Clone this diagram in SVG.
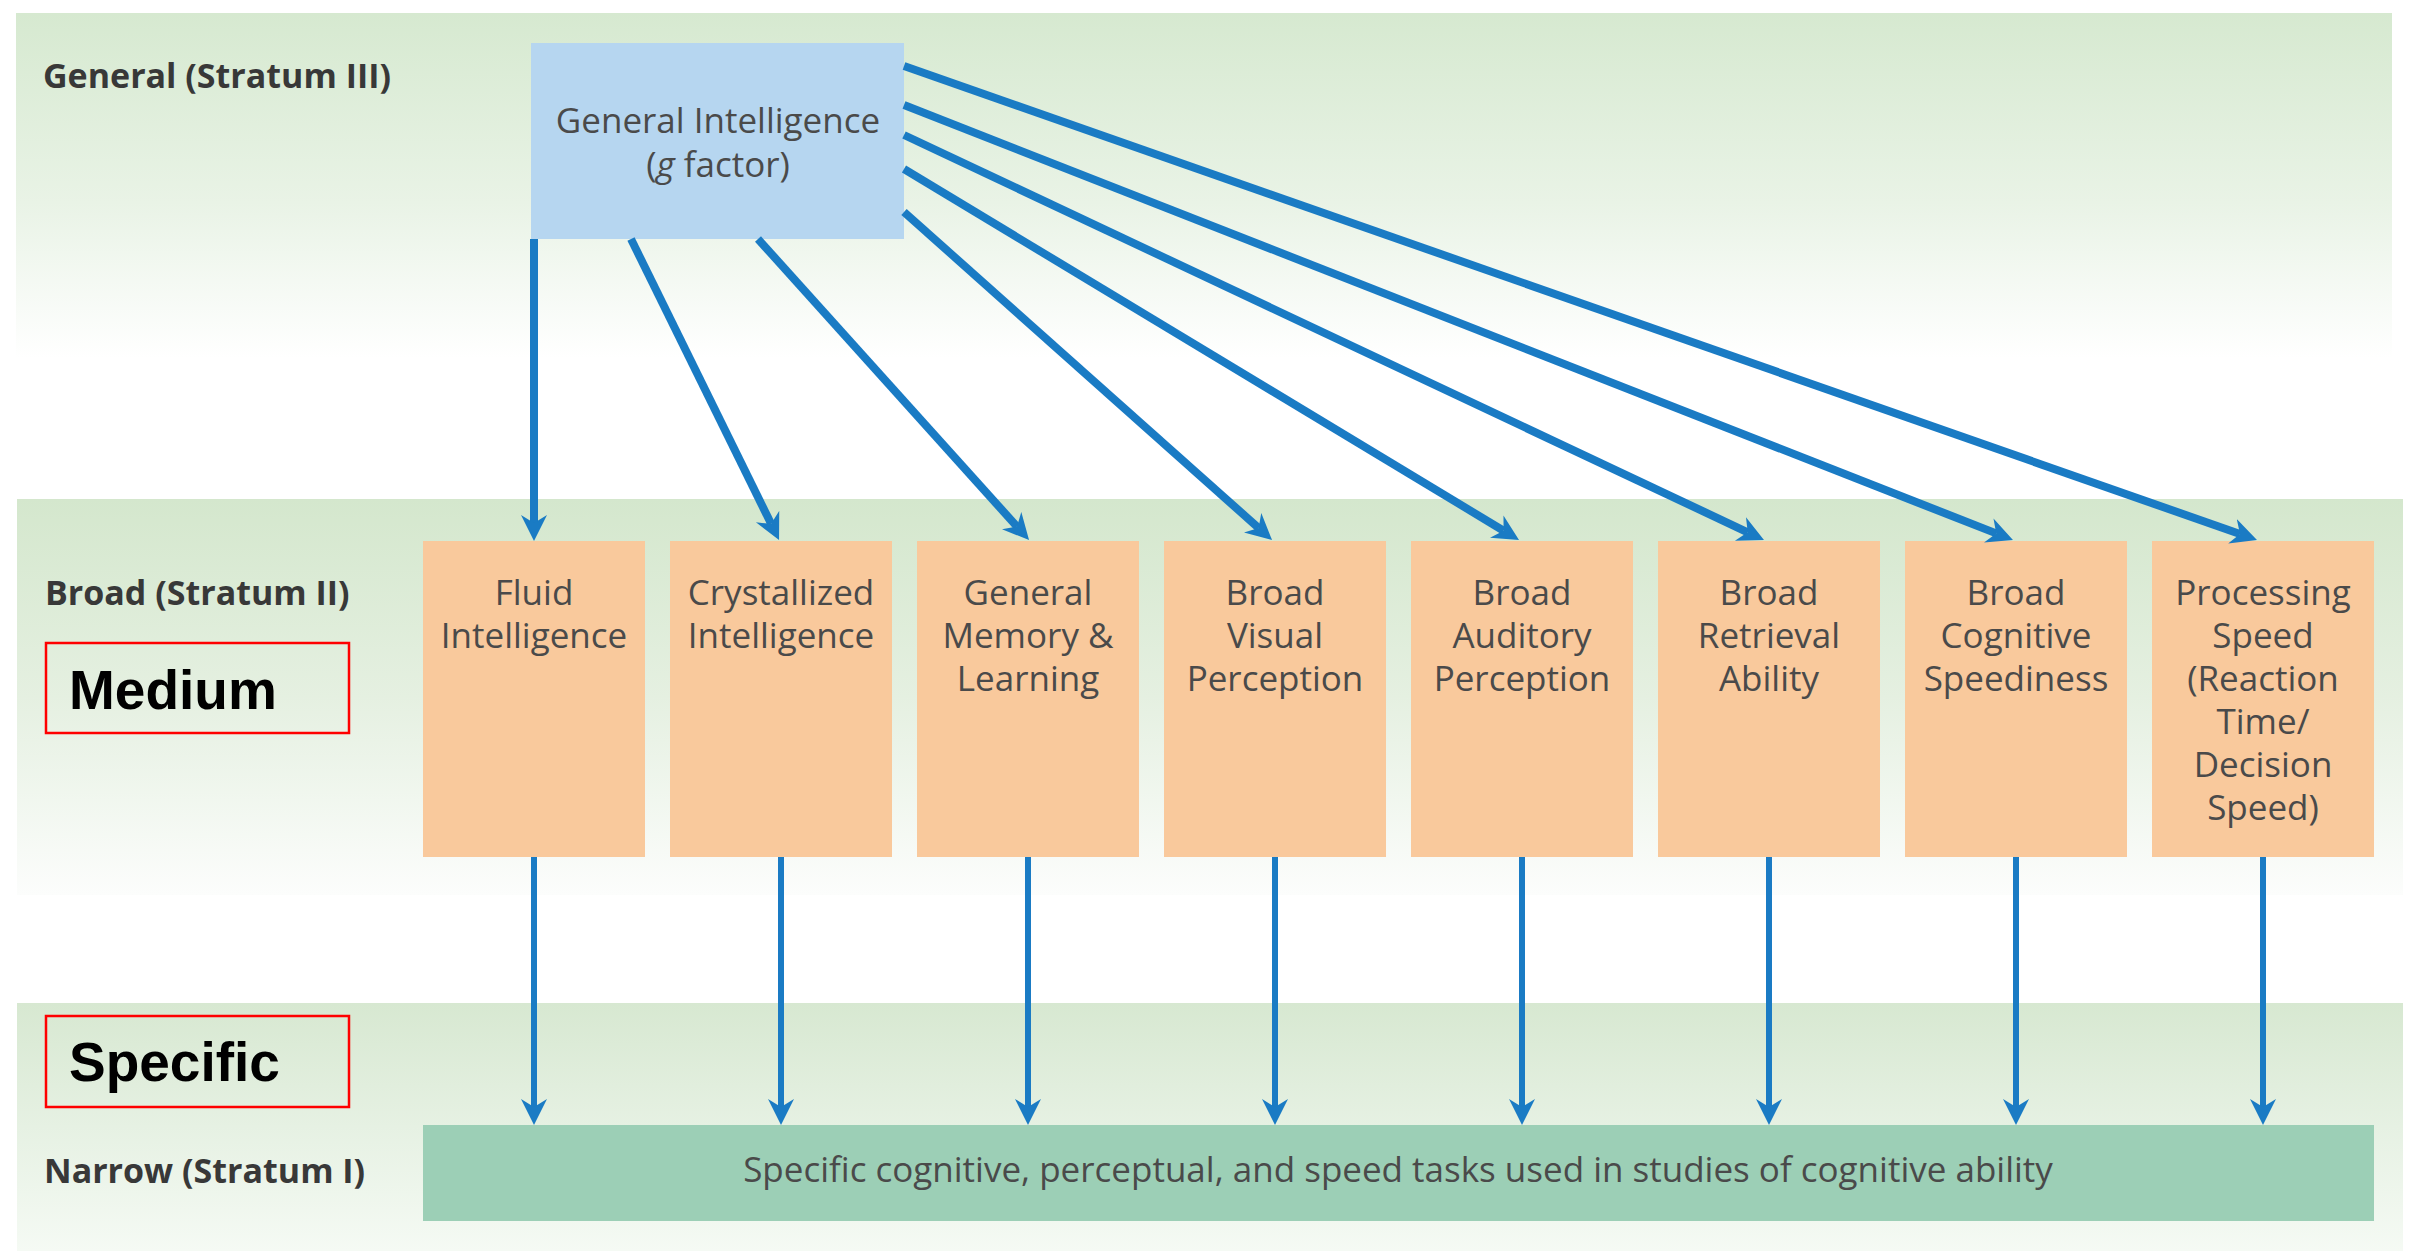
<svg xmlns="http://www.w3.org/2000/svg" width="2410" height="1251" viewBox="0 0 2410 1251">
  <style>
    .lvl { font-family: "Open Sans", "Liberation Sans", sans-serif; font-weight: bold; font-size: 34px; fill: #383838; }
    .nt { font-family: "Open Sans", "Liberation Sans", sans-serif; font-size: 35px; fill: #4a4a4a; text-anchor: middle; }
    .big { font-family: "Liberation Sans", Arial, sans-serif; font-weight: bold; font-size: 55px; fill: #000; }
    .redbox { fill: none; stroke: #ff0000; stroke-width: 2.5; }
    .broad { fill: #f9c99c; }
    .conn { stroke: #1a7bc4; stroke-width: 8; fill: none; marker-end: url(#ah); }
    .conn2 { stroke: #1a7bc4; stroke-width: 6; fill: none; marker-end: url(#ah); }
  </style>
  <defs>
    <linearGradient id="g1" x1="0" y1="0" x2="0" y2="1">
      <stop offset="0" stop-color="#d6e9d0"/>
      <stop offset="0.55" stop-color="#e9f3e6"/>
      <stop offset="1" stop-color="#ffffff"/>
    </linearGradient>
    <linearGradient id="g2" x1="0" y1="0" x2="0" y2="1">
      <stop offset="0" stop-color="#d4e7cd"/>
      <stop offset="0.5" stop-color="#e5f0e1"/>
      <stop offset="1" stop-color="#fcfdfc"/>
    </linearGradient>
    <linearGradient id="g3" x1="0" y1="0" x2="0" y2="1">
      <stop offset="0" stop-color="#d7e8d1"/>
      <stop offset="0.5" stop-color="#e6f1e3"/>
      <stop offset="1" stop-color="#f5faf4"/>
    </linearGradient>
    <marker id="ah" viewBox="0 -14 28 28" markerUnits="userSpaceOnUse" markerWidth="28" markerHeight="28" refX="8" refY="0" orient="auto">
      <path d="M26,0 L0,-13 L8,0 L0,13 Z" fill="#1a7bc4"/>
    </marker>
  </defs>

  <rect x="0" y="0" width="2410" height="1251" fill="#ffffff"/>
  <g id="bands">
    <rect x="16" y="13" width="2376" height="345" fill="url(#g1)"/>
    <rect x="17" y="499" width="2386" height="396" fill="url(#g2)"/>
    <rect x="17" y="1003" width="2386" height="248" fill="url(#g3)"/>
  </g>

  <g id="level-labels">
    <text class="lvl" x="43" y="88">General (Stratum III)</text>
    <text class="lvl" x="45" y="605">Broad (Stratum II)</text>
    <text class="lvl" x="44" y="1183">Narrow (Stratum I)</text>
  </g>

  <g id="medium-label">
    <rect class="redbox" x="46" y="643" width="303" height="90"/>
    <text class="big" x="69" y="709">Medium</text>
  </g>
  <g id="specific-label">
    <rect class="redbox" x="46" y="1016" width="303" height="91"/>
    <text class="big" x="69" y="1081">Specific</text>
  </g>

  <g id="g-factor">
    <rect x="531" y="43" width="373" height="196" fill="#b6d6f0"/>
    <text class="nt" x="718" y="133" font-size="36.5">General Intelligence</text>
    <text class="nt" x="718" y="177" font-size="36.5">(<tspan font-style="italic">g</tspan> factor)</text>
  </g>

  <g id="broad-1">
    <rect class="broad" x="423" y="541" width="222" height="316"/>
    <text class="nt" x="534" y="605">Fluid</text>
    <text class="nt" x="534" y="648">Intelligence</text>
  </g>
  <g id="broad-2">
    <rect class="broad" x="670" y="541" width="222" height="316"/>
    <text class="nt" x="781" y="605">Crystallized</text>
    <text class="nt" x="781" y="648">Intelligence</text>
  </g>
  <g id="broad-3">
    <rect class="broad" x="917" y="541" width="222" height="316"/>
    <text class="nt" x="1028" y="605">General</text>
    <text class="nt" x="1028" y="648">Memory &amp;</text>
    <text class="nt" x="1028" y="691">Learning</text>
  </g>
  <g id="broad-4">
    <rect class="broad" x="1164" y="541" width="222" height="316"/>
    <text class="nt" x="1275" y="605">Broad</text>
    <text class="nt" x="1275" y="648">Visual</text>
    <text class="nt" x="1275" y="691">Perception</text>
  </g>
  <g id="broad-5">
    <rect class="broad" x="1411" y="541" width="222" height="316"/>
    <text class="nt" x="1522" y="605">Broad</text>
    <text class="nt" x="1522" y="648">Auditory</text>
    <text class="nt" x="1522" y="691">Perception</text>
  </g>
  <g id="broad-6">
    <rect class="broad" x="1658" y="541" width="222" height="316"/>
    <text class="nt" x="1769" y="605">Broad</text>
    <text class="nt" x="1769" y="648">Retrieval</text>
    <text class="nt" x="1769" y="691">Ability</text>
  </g>
  <g id="broad-7">
    <rect class="broad" x="1905" y="541" width="222" height="316"/>
    <text class="nt" x="2016" y="605">Broad</text>
    <text class="nt" x="2016" y="648">Cognitive</text>
    <text class="nt" x="2016" y="691">Speediness</text>
  </g>
  <g id="broad-8">
    <rect class="broad" x="2152" y="541" width="222" height="316"/>
    <text class="nt" x="2263" y="605">Processing</text>
    <text class="nt" x="2263" y="648">Speed</text>
    <text class="nt" x="2263" y="691">(Reaction</text>
    <text class="nt" x="2263" y="734">Time/</text>
    <text class="nt" x="2263" y="777">Decision</text>
    <text class="nt" x="2263" y="820">Speed)</text>
  </g>

  <g id="narrow">
    <rect x="423" y="1125" width="1951" height="96" fill="#9ccfb6"/>
    <text class="nt" x="1398" y="1182" font-size="35.2">Specific cognitive, perceptual, and speed tasks used in studies of cognitive ability</text>
  </g>

  <g id="connectors">
    <line class="conn" x1="534" y1="239" x2="534" y2="523"/>
    <line class="conn" x1="631" y1="239" x2="771.1" y2="523.8"/>
    <line class="conn" x1="758" y1="239" x2="1017.0" y2="526.6"/>
    <line class="conn" x1="904" y1="212" x2="1258.6" y2="528.0"/>
    <line class="conn" x1="904" y1="169" x2="1503.6" y2="530.7"/>
    <line class="conn" x1="904" y1="135" x2="1747.7" y2="532.3"/>
    <line class="conn" x1="904" y1="105" x2="1996.2" y2="533.4"/>
    <line class="conn" x1="904" y1="66" x2="2240.0" y2="534.0"/>

    <line class="conn2" x1="534" y1="857" x2="534" y2="1107"/>
    <line class="conn2" x1="781" y1="857" x2="781" y2="1107"/>
    <line class="conn2" x1="1028" y1="857" x2="1028" y2="1107"/>
    <line class="conn2" x1="1275" y1="857" x2="1275" y2="1107"/>
    <line class="conn2" x1="1522" y1="857" x2="1522" y2="1107"/>
    <line class="conn2" x1="1769" y1="857" x2="1769" y2="1107"/>
    <line class="conn2" x1="2016" y1="857" x2="2016" y2="1107"/>
    <line class="conn2" x1="2263" y1="857" x2="2263" y2="1107"/>
  </g>
</svg>
